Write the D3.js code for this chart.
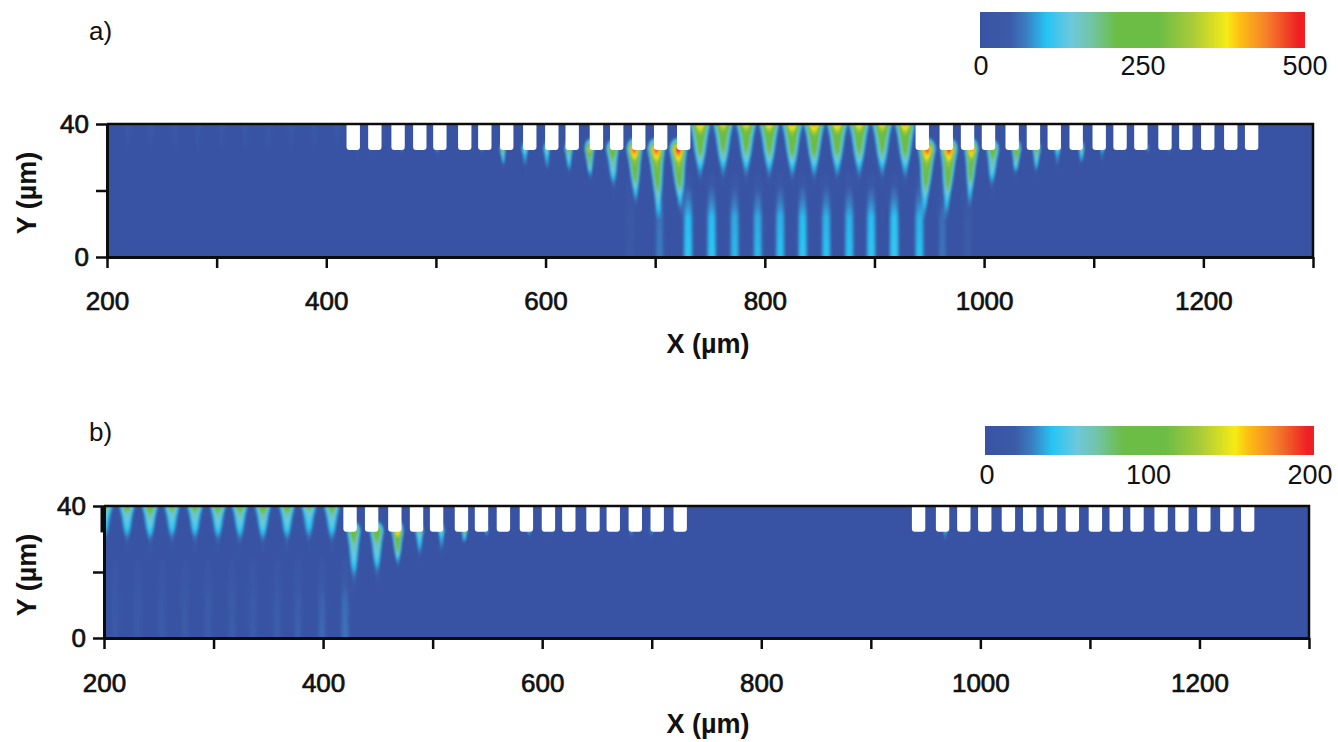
<!DOCTYPE html>
<html lang="en">

<head>
    <meta charset="utf-8">
    <title>Field maps</title>
    <style>
        body { margin: 0; background: #fff; }
        text { font-family: "Liberation Sans", Arial, sans-serif; fill: #111; }
    </style>
</head>

<body>
    <svg id="chart" width="1338" height="742"></svg>

    <script src="https://d3js.org/d3.v7.min.js"></script>
    <script>
    // finger centres of the mask, um (same mask in both panels)
    const fingerX = [424.6, 444.3, 465.5, 485.3, 503.6, 526.3, 544.6, 564.6, 585.6, 605.7, 624.3, 646.4, 664.9, 685, 705, 726,
      943.6, 965.5, 984.9, 1004, 1025.6, 1045, 1064, 1084, 1105, 1124, 1143, 1165, 1184, 1204, 1225, 1244];

    // colour bar, fraction of full scale -> colour
    const barStops = [0, 0.09, 0.14, 0.205, 0.28, 0.34, 0.42, 0.55, 0.65, 0.76, 0.8, 0.88, 0.98, 1];
    const barColors = ['#3953a4', '#3b5aa8', '#3a7cc0', '#27c4f4', '#6dc8dc', '#72c4a8', '#6cbd45', '#6cbd45', '#a6ca3a', '#f6eb14', '#fdbe12', '#f5822a', '#ee2024', '#ee2024'];

    // panel a: jets in the open gap
    const aOpenX = [741, 762, 783, 804, 825, 845, 866, 886, 907, 928];
    const aOpenV = [420, 380, 385, 400, 430, 440, 420, 400, 390, 430];
    // panel a: jets under the left fingers
    const aLeftX = [561, 581, 601, 621, 640, 661, 681, 701, 721];
    const aLeftV = [260, 170, 180, 240, 360, 290, 480, 480, 500];
    const aLeftL = [5, 6, 7, 7, 8, 11, 13, 15, 15];
    const aLeftW = [1.8, 2.4, 2.4, 2.8, 3.2, 4.6, 5.2, 5.8, 5.8];
    // panel a: jets under the right fingers
    const aRightX = [948, 968, 988.5, 1008, 1029.5, 1048, 1067, 1089, 1108, 1128, 1149, 1169, 1228];
    const aRightV = [480, 490, 450, 280, 330, 250, 150, 210, 130, 75, 105, 85, 65];
    const aRightL = [15, 15, 13, 11, 7, 7, 6, 5, 4.5, 2.5, 2.5, 2.5, 2.5];
    const aRightW = [5.8, 5.8, 4.6, 4.6, 3.2, 2.8, 2.4, 1.8, 1.5, 1.2, 1.2, 1.2, 1.2];
    // panel a: weak spots at the far left fingers
    const aWeakX = [428, 441, 469, 501, 542];
    const aWeakV = [70, 60, 90, 110, 90];
    // panel a: ripple before the fingers
    const aRippleX = [219, 240, 262, 283, 305, 326, 347, 368, 389, 410];
    const aRippleV = [45, 45, 48, 48, 50, 50, 48, 45, 42, 42];
    // panel a: columns rising from the bottom
    const aColX = [677, 704, 730, 751.5, 772.5, 793.5, 814, 834.5, 856, 877, 897, 918, 941, 962, 985];
    const aColV = [40, 70, 110, 110, 100, 100, 105, 110, 105, 105, 110, 115, 105, 65, 45];

    // panel b: jets in the open gap
    const bOpenX = [201, 221, 242, 262, 283, 304, 324, 345, 367, 387, 408];
    const bOpenV = [85, 95, 105, 92, 96, 100, 100, 105, 100, 86, 100];
    // panel b: jets under the fingers
    const bLeftX = [428, 449, 468, 488, 508, 529, 549, 588, 608, 652, 681, 700, 720, 968, 990];
    const bLeftV = [105, 110, 170, 80, 65, 90, 50, 50, 28, 26, 42, 42, 24, 55, 24];
    const bLeftL = [15, 13, 9, 8, 7, 4, 3, 3, 3, 3, 4, 4, 4, 3.5, 4];
    const bLeftW = [5.2, 5.2, 4, 3.2, 2.6, 2, 1.3, 1.3, 1.3, 1.3, 1.3, 1.3, 1.3, 1.3, 1.3];
    // panel b: columns rising from the bottom
    const bColX = [210, 231, 253, 274, 295, 317, 336, 358, 377, 399, 420];
    const bColV = [17, 17, 18, 18, 19, 19, 19, 20, 21, 23, 26];

    const xTicks = d3.range(200, 1301, 100);
    const xLabels = [200, 400, 600, 800, 1000, 1200];
    const yTicks = [0, 20, 40];
    const yLabels = [0, 40];
    const aBarLabels = [0, 250, 500];
    const bBarLabels = [0, 100, 200];

    const svg = d3.select('#chart');
    const defs = svg.append('defs');

    defs.append('filter').attr('id', 'soft')
      .attr('x', '-2%').attr('y', '-10%').attr('width', '104%').attr('height', '120%')
      .append('feGaussianBlur').attr('stdDeviation', 1);

    const fractionColor = d3.scaleLinear().domain(barStops).range(barColors).clamp(true);

    // how a jet fades going down, t = depth / length
    const jetFade = d3.scaleLinear().domain([0, 0.1, 0.25, 0.6, 0.9, 1.4]).range([1, 0.85, 0.66, 0.5, 0.26, 0]).clamp(true);
    // how a column fades going up, in um above the bottom
    const colFade = d3.scaleLinear().domain([0, 12, 20, 27]).range([1, 0.92, 0.5, 0]).clamp(true);

    const jet = (x, v, L, w, y0, tilt) => x.map((d, i) => ({
      x: d, v: v[i], L: L.length ? L[i] : L, w: w.length ? w[i] : w, y0: y0, tilt: tilt
    }));
    const col = (x, v) => x.map((d, i) => ({ x: d, v: v[i] }));

    function fieldAt(xv, yv, jets, cols) {
      let sum = 0;
      for (const p of jets) {
        const depth = p.y0 - yv;
        const dx = Math.abs(xv - (p.x + p.tilt * Math.max(depth, 0)));
        if (dx > 24) continue;
        const t = depth / p.L;
        const wt = p.w * (1 - 0.6 * Math.min(Math.max(t, 0), 1));
        const cross = Math.exp(-Math.pow(dx / wt, 2.5));
        const above = depth < 0 ? Math.exp(-Math.pow(depth / 2.5, 2)) : 1;
        sum += p.v * jetFade(t) * cross * above;
      }
      for (const c of cols) {
        const dx = Math.abs(xv - c.x);
        if (dx > 16) continue;
        sum += c.v * colFade(yv) * Math.exp(-Math.pow(dx / 5, 3));
      }
      return sum;
    }

    function drawPanel(id, box, vmax, jets, cols, bar, barLabels, letter, titles) {
      const x = d3.scaleLinear().domain([200, 1300]).range([box.left, box.right]);
      const y = d3.scaleLinear().domain([0, 40]).range([box.bottom, box.top]);
      const g = svg.append('g');

      // sample the field on a grid and fill it with nested contours
      const dx = 1.5, dy = 0.5;
      const nx = Math.round(1100 / dx) + 1, ny = Math.round(40 / dy) + 1;
      const values = new Float64Array(nx * ny);
      for (let j = 0; j < ny; j++) {
        for (let i = 0; i < nx; i++) {
          values[j * nx + i] = fieldAt(200 + i * dx, j * dy, jets, cols);
        }
      }
      const levels = d3.range(0.02, 1, 0.01).map(f => f * vmax);
      const contours = d3.contours().size([nx, ny]).smooth(true).thresholds(levels)(values);
      const path = d3.geoPath(d3.geoTransform({
        point: function (px, py) {
          this.stream.point(x(200 + (px - 0.5) * dx), y((py - 0.5) * dy));
        }
      }));

      defs.append('clipPath').attr('id', 'clip-' + id)
        .append('rect')
        .attr('x', box.left).attr('y', box.top)
        .attr('width', box.right - box.left).attr('height', box.bottom - box.top);

      const plot = g.append('g').attr('clip-path', 'url(#clip-' + id + ')');
      const field = plot.append('g').attr('filter', 'url(#soft)');
      field.append('rect')
        .attr('x', box.left - 20).attr('y', box.top - 10)
        .attr('width', box.right - box.left + 40).attr('height', box.bottom - box.top + 20)
        .attr('fill', fractionColor(0));
      field.selectAll('path.level')
        .data(contours)
        .enter()
        .append('path')
        .attr('class', 'level')
        .attr('d', path)
        .attr('fill', d => fractionColor(d.value / vmax + 0.005));

      // fingers
      plot.selectAll('rect.finger')
        .data(fingerX)
        .enter()
        .append('rect')
        .attr('class', 'finger')
        .attr('x', d => x(d - 6.1))
        .attr('y', y(42))
        .attr('width', d => x(d + 6.1) - x(d - 6.1))
        .attr('height', y(32.2) - y(42))
        .attr('rx', 3)
        .attr('fill', '#fff');

      // axes
      const xAxis = d3.axisBottom(x)
        .tickValues(xTicks)
        .tickSize(11)
        .tickSizeOuter(0)
        .tickPadding(box.xPad)
        .tickFormat(d => xLabels.includes(d) ? d : '');
      const yAxis = d3.axisLeft(y)
        .tickValues(yTicks)
        .tickSize(11)
        .tickSizeOuter(0)
        .tickPadding(7)
        .tickFormat(d => yLabels.includes(d) ? d : '');

      const gx = g.append('g').attr('transform', 'translate(0,' + box.bottom + ')').call(xAxis);
      const gy = g.append('g').attr('transform', 'translate(' + box.left + ',0)').call(yAxis);
      [gx, gy].forEach(a => {
        a.selectAll('path.domain').attr('stroke', '#0c0c0c').attr('stroke-width', 3);
        a.selectAll('.tick line').attr('stroke', '#0c0c0c').attr('stroke-width', 2.5);
        a.selectAll('text')
          .attr('font-size', 26)
          .attr('font-family', '"Liberation Sans", Arial, sans-serif')
          .attr('fill', '#111')
          .attr('stroke', '#111')
          .attr('stroke-width', 0.7);
      });

      // top and right edge
      g.append('path')
        .attr('d', d3.line()([[box.left, box.top], [box.right, box.top], [box.right, box.bottom]]))
        .attr('fill', 'none')
        .attr('stroke', '#0c0c0c')
        .attr('stroke-width', 2.5);

      // colour bar
      const gradId = 'grad-' + id;
      const grad = defs.append('linearGradient').attr('id', gradId);
      grad.selectAll('stop')
        .data(barStops)
        .enter()
        .append('stop')
        .attr('offset', d => d)
        .attr('stop-color', (d, i) => barColors[i]);
      g.append('rect')
        .attr('x', bar.left).attr('y', bar.top)
        .attr('width', bar.right - bar.left).attr('height', bar.bottom - bar.top)
        .attr('fill', 'url(#' + gradId + ')');

      const barScale = d3.scaleLinear().domain([0, vmax]).range(bar.labelRange);
      g.selectAll('text.barlabel')
        .data(barLabels)
        .enter()
        .append('text')
        .attr('class', 'barlabel')
        .attr('x', d => barScale(d))
        .attr('y', bar.baseline)
        .attr('text-anchor', 'middle')
        .attr('font-size', 27)
        .text(d => d);

      g.append('text')
        .attr('x', 89).attr('y', letter.y)
        .attr('font-size', 26)
        .text(letter.text);

      g.append('text')
        .attr('x', 708).attr('y', titles.x)
        .attr('text-anchor', 'middle')
        .attr('font-size', 27)
        .attr('font-weight', 'bold')
        .text('X (µm)');
      g.append('text')
        .attr('transform', 'translate(36,' + titles.y + ') rotate(-90)')
        .attr('text-anchor', 'middle')
        .attr('font-size', 27)
        .attr('font-weight', 'bold')
        .text('Y (µm)');

      return { g: g, x: x, y: y };
    }

    const aJets = [].concat(
      jet(aOpenX, aOpenV, 14, 7, 40, 0),
      jet(aLeftX, aLeftV, aLeftL, aLeftW, 32.2, 0.1),
      jet(aRightX, aRightV, aRightL, aRightW, 32.2, -0.1),
      jet(aWeakX, aWeakV, 3, 1.3, 32.2, 0),
      jet(aRippleX, aRippleV, 9, 5, 40, 0)
    );
    drawPanel('a',
      { left: 107, right: 1313, top: 124, bottom: 257, xPad: 24 },
      500, aJets, col(aColX, aColV),
      { left: 980, right: 1305, top: 12, bottom: 48, baseline: 75, labelRange: [981, 1305] },
      aBarLabels,
      { y: 40, text: 'a)' },
      { x: 353, y: 193 });

    const bJets = [].concat(
      jet(bOpenX, bOpenV, 11, 6.2, 40, 0),
      jet(bLeftX, bLeftV, bLeftL, bLeftW, 32.2, 0.02)
    );
    const panelB = drawPanel('b',
      { left: 104, right: 1309, top: 506, bottom: 638, xPad: 25 },
      200, bJets, col(bColX, bColV),
      { left: 985, right: 1314, top: 426, bottom: 455, baseline: 484, labelRange: [987, 1310] },
      bBarLabels,
      { y: 441, text: 'b)' },
      { x: 733, y: 575 });

    // thick piece of the left edge in panel b
    panelB.g.append('line')
      .attr('x1', panelB.x(200) - 1).attr('x2', panelB.x(200) - 1)
      .attr('y1', panelB.y(40)).attr('y2', panelB.y(32))
      .attr('stroke', '#0c0c0c')
      .attr('stroke-width', 5);
    </script>
</body>

</html>
